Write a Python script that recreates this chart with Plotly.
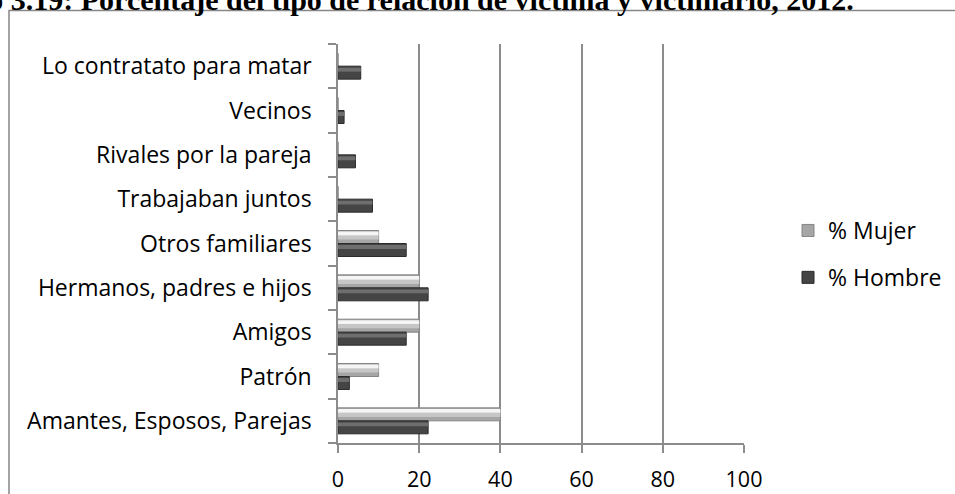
import plotly.graph_objects as go

categories = ["Amantes, Esposos, Parejas", "Patrón", "Amigos", "Hermanos, padres e hijos",
              "Otros familiares", "Trabajaban juntos", "Rivales por la pareja", "Vecinos",
              "Lo contratato para matar"]
mujer = [40, 10, 20, 20, 10, 0, 0, 0, 0]
hombre = [22.2, 2.8, 16.8, 22.2, 16.8, 8.5, 4.3, 1.5, 5.6]
x_ticks = [0, 20, 40, 60, 80, 100]
title_text = "Gráfico 3.19: Porcentaje del tipo de relación de víctima y victimario, 2012."

W, H = 955, 494
ML, MR, MT, MB = 338, 211, 44, 51
pw, ph = W - ML - MR, H - MT - MB

def px_x(p):
    return (p - ML) / pw

def px_y(p):
    return (H - MB - p) / ph

FONT = "Open Sans"
bw = 0.293

fig = go.Figure()
# Mujer (upper bar in each group)
fig.add_trace(go.Bar(y=categories, x=mujer, orientation="h", name="% Mujer",
                     offset=0, width=bw, legendgroup="m",
                     marker=dict(color="#a6a6a6", line=dict(color="#858585", width=1))))
fig.add_trace(go.Bar(y=categories, x=mujer, orientation="h", showlegend=False, hoverinfo="skip",
                     offset=bw * 0.3, width=bw * 0.32, legendgroup="m",
                     marker=dict(color="#c6c6c6", line=dict(width=0))))
fig.add_trace(go.Bar(y=categories, x=mujer, orientation="h", showlegend=False, hoverinfo="skip",
                     offset=bw * 0.62, width=bw * 0.3, legendgroup="m",
                     marker=dict(color="#f5f5f5", line=dict(width=0))))
# Hombre (lower bar)
fig.add_trace(go.Bar(y=categories, x=hombre, orientation="h", name="% Hombre",
                     offset=-bw, width=bw, legendgroup="h",
                     marker=dict(color="#454545", line=dict(color="#2b2b2b", width=1))))
fig.add_trace(go.Bar(y=categories, x=hombre, orientation="h", showlegend=False, hoverinfo="skip",
                     offset=-bw + bw * 0.58, width=bw * 0.3, legendgroup="h",
                     marker=dict(color="#6e6e6e", line=dict(width=0))))

grid_col = "#8c8c8c"
fig.update_layout(
    width=W, height=H,
    margin=dict(l=ML, r=MR, t=MT, b=MB, autoexpand=False),
    paper_bgcolor="white", plot_bgcolor="white",
    barmode="overlay",
    font=dict(family=FONT, size=22, color="#000000"),
    showlegend=True,
    legend=dict(x=px_x(788), y=px_y(209), xanchor="left", yanchor="top",
                traceorder="grouped", tracegroupgap=14,
                font=dict(family=FONT, size=23, color="#000000"),
                bgcolor="rgba(0,0,0,0)"),
    xaxis=dict(range=[0, 100], tickvals=x_ticks, ticktext=[str(v) for v in x_ticks],
               showgrid=True, gridcolor=grid_col, gridwidth=1.5,
               showline=True, linecolor=grid_col, linewidth=1.5,
               ticks="outside", ticklen=8, tickcolor=grid_col, tickwidth=1.5,
               zeroline=False, ticklabelstandoff=8, automargin=False,
               tickfont=dict(size=21.5, family=FONT)),
    yaxis=dict(categoryorder="array", categoryarray=categories,
               range=[-0.5, len(categories) - 0.5],
               showline=True, linecolor=grid_col, linewidth=1.5,
               ticks="outside", ticklen=8, tickcolor=grid_col, tickwidth=1.5,
               tickson="boundaries", showgrid=False, zeroline=False,
               ticklabelstandoff=20, automargin=False,
               tickfont=dict(size=23, family=FONT)),
    shapes=[dict(type="rect", xref="paper", yref="paper",
                 x0=px_x(9), x1=px_x(1200), y0=px_y(800), y1=px_y(10.5),
                 line=dict(color="#878787", width=1.5), fillcolor="rgba(0,0,0,0)", layer="below")],
    annotations=[dict(text="<b>" + title_text + "</b>", xref="paper", yref="paper",
                      x=px_x(856), y=px_y(18), xanchor="right", yanchor="bottom",
                      showarrow=False,
                      font=dict(family="Liberation Serif", size=30, color="#000000"))],
)

fig.write_html("out.html", config={"displayModeBar": False},
               post_script="document.body.style.margin='0';document.body.style.overflow='hidden';")
